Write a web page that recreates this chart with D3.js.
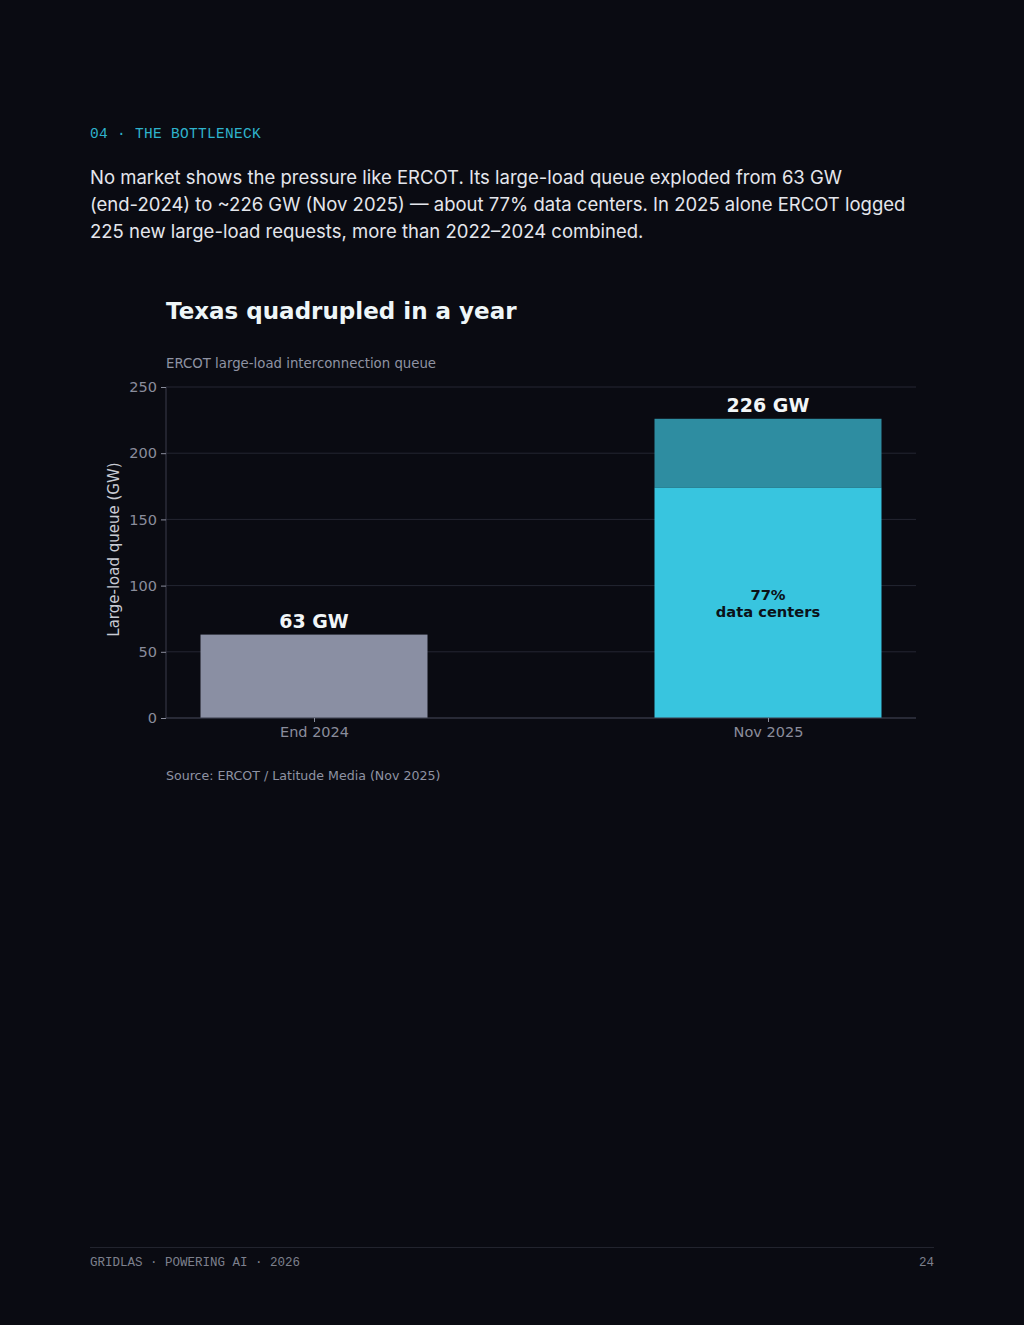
<!DOCTYPE html>
<html>
<head>
<meta charset="utf-8">
<script src="https://cdn.jsdelivr.net/npm/d3@7"></script>
<style>
  html, body { margin: 0; padding: 0; background: #0a0b12; }
  body { width: 1024px; height: 1325px; position: relative; overflow: hidden; }
  .kicker { position: absolute; left: 90px; top: 126px; font-family: "Liberation Mono", monospace; font-size: 14.5px; color: #2fb3cc; letter-spacing: 0.3px; }
  .lead { position: absolute; left: 90px; top: 164px; width: 830px; font-family: Inter, "Noto Sans", sans-serif; font-size: 18.5px; line-height: 27px; color: #e4e6ec; }
  .lead .nw { white-space: nowrap; }
  .foot { position: absolute; left: 90px; top: 1247px; width: 844px; border-top: 1px solid #22242e; padding-top: 8px; font-family: "Liberation Mono", monospace; font-size: 12.5px; color: #7d808d; display: flex; justify-content: space-between; }
  #chart { position: absolute; left: 0; top: 0; }
</style>
</head>
<body>
<div class="kicker">04 · THE BOTTLENECK</div>
<div class="lead">No market shows the pressure like ERCOT. Its large-load queue exploded from 63 GW <span class="nw">(end-2024)</span> to ~226 GW (Nov 2025) — about 77% data centers. In 2025 alone ERCOT logged 225 new large-load requests, more than 2022–2024 combined.</div>
<svg id="chart" width="1024" height="820"></svg>
<div class="foot"><span>GRIDLAS · POWERING AI · 2026</span><span>24</span></div>
<script>
// data
var categories = ["End 2024", "Nov 2025"]
var totals = [63, 226]
var dataCenterShare = [null, 0.77]
var totalLabels = ["63 GW", "226 GW"]
var yTicks = [0, 50, 100, 150, 200, 250]

var svg = d3.select("#chart")
var plotL = 166, plotR = 916, plotT = 387, plotB = 718

var x = d3.scaleLinear().domain([-0.326, 1.326]).range([plotL, plotR])
var y = d3.scaleLinear().domain([0, 250]).range([plotB, plotT])
var barW = x(0.5) - x(0)

// title + subtitle
svg.append("text").attr("x", 166).attr("y", 319)
	.attr("font-family", "DejaVu Sans").attr("font-weight", "bold").attr("font-size", 23)
	.attr("fill", "#eef6f8").text("Texas quadrupled in a year")
svg.append("text").attr("x", 166).attr("y", 368)
	.attr("font-family", "DejaVu Sans").attr("font-size", 13.3)
	.attr("fill", "#8f93a3").text("ERCOT large-load interconnection queue")

// grid
svg.append("g").selectAll("line").data(yTicks).enter().append("line")
	.attr("x1", plotL).attr("x2", plotR)
	.attr("y1", d => y(d)).attr("y2", d => y(d))
	.attr("stroke", "#242632").attr("stroke-width", 1)

// bars
var g = svg.append("g")
categories.forEach(function (c, i) {
	var total = totals[i]
	var share = dataCenterShare[i]
	if (share == null) {
		g.append("rect").attr("x", x(i) - barW / 2).attr("width", barW)
			.attr("y", y(total)).attr("height", y(0) - y(total)).attr("fill", "#8a8fa3")
	} else {
		var dc = total * share
		g.append("rect").attr("x", x(i) - barW / 2).attr("width", barW)
			.attr("y", y(total)).attr("height", y(dc) - y(total)).attr("fill", "#2e8da1")
		g.append("rect").attr("x", x(i) - barW / 2).attr("width", barW)
			.attr("y", y(dc)).attr("height", y(0) - y(dc)).attr("fill", "#38c5df")
		var t = g.append("text").attr("x", x(i)).attr("y", y(dc / 2))
			.attr("text-anchor", "middle").attr("font-family", "DejaVu Sans")
			.attr("font-weight", "bold").attr("font-size", 14.7).attr("fill", "#0b1218")
		t.append("tspan").attr("x", x(i)).attr("dy", "-3").text(Math.round(share * 100) + "%")
		t.append("tspan").attr("x", x(i)).attr("dy", "17").text("data centers")
	}
	g.append("text").attr("x", x(i)).attr("y", y(total) - 7)
		.attr("text-anchor", "middle").attr("font-family", "DejaVu Sans")
		.attr("font-weight", "bold").attr("font-size", 19).attr("fill", "#f2f6f8")
		.text(totalLabels[i])
})

// axes
var yAxis = svg.append("g").attr("transform", "translate(" + plotL + ",0)")
	.call(d3.axisLeft(y).tickValues(yTicks).tickSize(5).tickPadding(4))
var xAxis = svg.append("g").attr("transform", "translate(0," + plotB + ")")
	.call(d3.axisBottom(x).tickValues([0, 1]).tickFormat(d => categories[d]).tickSize(4).tickPadding(5))
;[yAxis, xAxis].forEach(function (a) {
	a.select(".domain").attr("stroke", "#3a3d4a")
	a.selectAll(".tick line").attr("stroke", "#8a8d9c")
	a.selectAll("text").attr("fill", "#8a8d9c").attr("font-family", "DejaVu Sans").attr("font-size", 14.5)
})
xAxis.select(".domain").attr("d", "M" + plotL + ",0H" + plotR)
yAxis.select(".domain").attr("d", "M0," + plotB + "V" + plotT)

svg.append("text").attr("transform", "translate(119," + ((plotT + plotB) / 2 - 3) + ") rotate(-90)")
	.attr("text-anchor", "middle").attr("font-family", "DejaVu Sans").attr("font-size", 15)
	.attr("fill", "#c9cbd4").text("Large-load queue (GW)")

// source
svg.append("text").attr("x", 166).attr("y", 780)
	.attr("font-family", "DejaVu Sans").attr("font-size", 12.6)
	.attr("fill", "#8f93a3").text("Source: ERCOT / Latitude Media (Nov 2025)")
</script>
</body>
</html>
